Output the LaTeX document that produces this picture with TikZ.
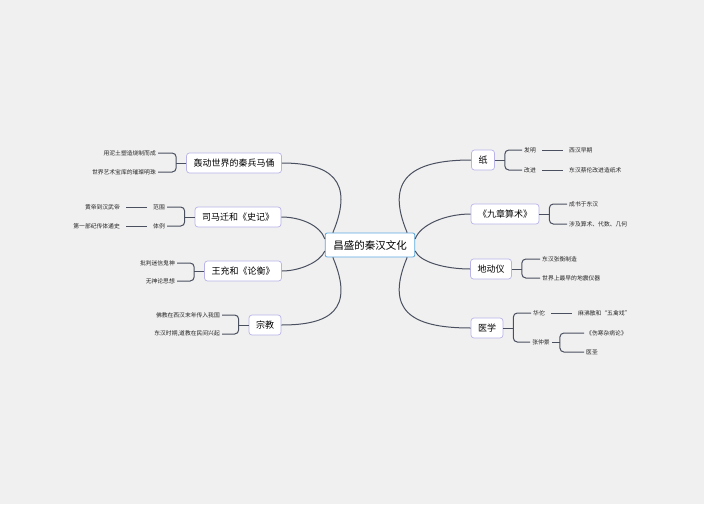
\documentclass[tikz,border=0pt]{standalone}
\usepackage{fontspec}
\setmainfont{Noto Sans CJK SC}
\usetikzlibrary{calc}
\definecolor{bg}{HTML}{F0F0F0}
\definecolor{edge}{HTML}{4A5060}
\definecolor{boxline}{HTML}{B8B4EA}
\definecolor{rootline}{HTML}{5BA8E0}
\tikzset{
  topic/.style={draw=boxline, fill=white, rounded corners=3pt, line width=0.7pt, font=\fontsize{9}{10}\selectfont, minimum height=20pt, inner xsep=7pt},
  root/.style={draw=rootline, fill=white, rounded corners=2pt, line width=0.8pt, font=\fontsize{10.5}{12}\selectfont, minimum height=24pt, inner xsep=8pt},
  leaf/.style={font=\fontsize{5.8}{7}\selectfont, inner sep=2pt, text=black!85},
  link/.style={draw=edge, line width=1pt},
  br/.style={draw=edge, line width=1pt, rounded corners=4pt}
}
\begin{document}
\begin{tikzpicture}[x=1pt,y=-1pt]
\fill[bg] (0,0) rectangle (704,504);
\node[root] (culture) at (370,245) {昌盛的秦汉文化};

% left side
\node[topic] (army) at (234,163) {轰动世界的秦兵马俑};
\node[topic] (shiji) at (238,217) {司马迁和《史记》};
\node[topic] (lunheng) at (243,271) {王充和《论衡》};
\node[topic] (religion) at (265,325) {宗教};

% right side
\node[topic] (paper) at (483,160) {纸};
\node[topic] (math) at (505,214) {《九章算术》};
\node[topic] (seismo) at (491,269) {地动仪};
\node[topic] (medicine) at (487,328) {医学};

\draw[link] (culture.north west) ++(8,0) .. controls (355,180) and (330,163) .. (army.east);
\draw[link] (culture.west) ++(0,-6) .. controls (320,225) and (300,217) .. (shiji.east);
\draw[link] (culture.west) ++(0,6) .. controls (320,262) and (300,271) .. (lunheng.east);
\draw[link] (culture.south west) ++(8,0) .. controls (355,310) and (330,325) .. (religion.east);
\draw[link] (culture.north east) ++(-8,0) .. controls (385,180) and (410,160) .. (paper.west);
\draw[link] (culture.east) ++(0,-6) .. controls (420,225) and (445,214) .. (math.west);
\draw[link] (culture.east) ++(0,6) .. controls (420,262) and (445,269) .. (seismo.west);
\draw[link] (culture.south east) ++(-8,0) .. controls (385,310) and (410,328) .. (medicine.west);

% leaves left
\node[leaf, anchor=east] (clay) at (158,153) {用泥土塑造烧制而成};
\node[leaf, anchor=east] (pearl) at (158,172) {世界艺术宝库的璀璨明珠};
\node[leaf] (scope) at (159,207) {范围};
\node[leaf] (style) at (159,226) {体例};
\node[leaf, anchor=east] (emperors) at (122,207) {黄帝到汉武帝};
\node[leaf, anchor=east] (firstbio) at (122,226) {第一部纪传体通史};
\node[leaf, anchor=east] (ghosts) at (177,263) {批判迷信鬼神};
\node[leaf, anchor=east] (atheism) at (177,281) {无神论思想};
\node[leaf, anchor=east] (buddhism) at (222,315) {佛教在西汉末年传入我国};
\node[leaf, anchor=east] (taoism) at (222,334) {东汉时期,道教在民间兴起};

% leaves right
\node[leaf] (invent) at (530,150) {发明};
\node[leaf] (improve) at (530,170) {改进};
\node[leaf, anchor=west] (early) at (567,150) {西汉早期};
\node[leaf, anchor=west] (cailun) at (567,170) {东汉蔡伦改进造纸术};
\node[leaf, anchor=west] (written) at (567,204) {成书于东汉};
\node[leaf, anchor=west] (algebra) at (567,224) {涉及算术、代数、几何};
\node[leaf, anchor=west] (zhangheng) at (540,259) {东汉张衡制造};
\node[leaf, anchor=west] (earliest) at (540,278) {世界上最早的地震仪器};
\node[leaf] (huatuo) at (539,313) {华佗};
\node[leaf] (zhang) at (541,342) {张仲景};
\node[leaf, anchor=west] (mafei) at (576,313) {麻沸散和“五禽戏”};
\node[leaf, anchor=west] (shanghan) at (584,333) {《伤寒杂病论》};
\node[leaf, anchor=west] (saint) at (584,352) {医圣};

% brackets left
\draw[link] (army.west) -- ++(-10,0);
\draw[br] (clay.east) -| ($(army.west)+(-10,0)$) |- (pearl.east);
\draw[link] (shiji.west) -- ++(-10,0);
\draw[br] (scope.east) -| ($(shiji.west)+(-10,0)$) |- (style.east);
\draw[link] (lunheng.west) -- ++(-10,0);
\draw[br] (ghosts.east) -| ($(lunheng.west)+(-10,0)$) |- (atheism.east);
\draw[link] (religion.west) -- ++(-10,0);
\draw[br] (buddhism.east) -| ($(religion.west)+(-10,0)$) |- (taoism.east);
\draw[link, shorten <=4pt, shorten >=4pt] (scope.west) -- (emperors.east);
\draw[link, shorten <=4pt, shorten >=4pt] (style.west) -- (firstbio.east);

% brackets right
\draw[link] (paper.east) -- ++(10,0);
\draw[br] (invent.west) -| ($(paper.east)+(10,0)$) |- (improve.west);
\draw[link] (math.east) -- ++(10,0);
\draw[br] (written.west) -| ($(math.east)+(10,0)$) |- (algebra.west);
\draw[link] (seismo.east) -- ++(10,0);
\draw[br] (zhangheng.west) -| ($(seismo.east)+(10,0)$) |- (earliest.west);
\draw[link] (medicine.east) -- ++(10,0);
\draw[br] (huatuo.west) -| ($(medicine.east)+(10,0)$) |- (zhang.west);
\draw[link] (zhang.east) -- ++(8,0);
\draw[br] (shanghan.west) -| ($(zhang.east)+(8,0)$) |- (saint.west);
\draw[link, shorten <=4pt, shorten >=4pt] (invent.east) -- (early.west);
\draw[link, shorten <=4pt, shorten >=4pt] (improve.east) -- (cailun.west);
\draw[link, shorten <=4pt, shorten >=4pt] (huatuo.east) -- (mafei.west);
\end{tikzpicture}
\end{document}
